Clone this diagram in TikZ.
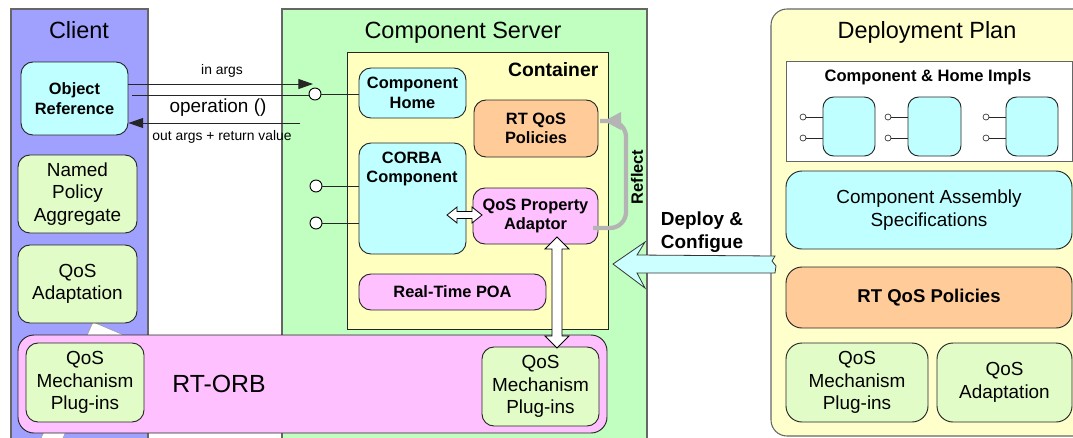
\documentclass[tikz,border=0pt]{standalone}
\usepackage{fontspec}
\setmainfont{Liberation Sans}
\usetikzlibrary{calc,arrows.meta}
\definecolor{clientblue}{HTML}{A0A0FF}
\definecolor{servergreen}{HTML}{C0FFC0}
\definecolor{contyellow}{HTML}{FFFFC0}
\definecolor{planyellow}{HTML}{FFFFCC}
\definecolor{cyanbox}{HTML}{BFFFFF}
\definecolor{greenbox}{HTML}{E2FCC8}
\definecolor{orangebox}{HTML}{FFCC99}
\definecolor{pinkbox}{HTML}{FFC0FF}
\definecolor{arrowcyan}{HTML}{CCFFFF}
\definecolor{reflectgray}{HTML}{B4B4B4}
\newcommand{\hdarrow}[6]{%
 \filldraw[blockarrow] (#1,#3) -- (#1+#6,#3-#5) -- (#1+#6,#3-#4) -- (#2-#6,#3-#4) -- (#2-#6,#3-#5) -- (#2,#3) -- (#2-#6,#3+#5) -- (#2-#6,#3+#4) -- (#1+#6,#3+#4) -- (#1+#6,#3+#5) -- cycle;}
\newcommand{\vdarrow}[6]{%
 \filldraw[blockarrow] (#3,#1) -- (#3+#5,#1+#6) -- (#3+#4,#1+#6) -- (#3+#4,#2-#6) -- (#3+#5,#2-#6) -- (#3,#2) -- (#3-#5,#2-#6) -- (#3-#4,#2-#6) -- (#3-#4,#1+#6) -- (#3-#5,#1+#6) -- cycle;}
\begin{document}
\begin{tikzpicture}[x=0.75pt,y=-0.75pt,
 bx/.style n args={4}{minimum width={(#3-#1)*0.75pt}, minimum height={(#4-#2)*0.75pt}, at={({(#1+#3)/2},{(#2+#4)/2})}},
 panel/.style={draw=black!60, line width=0.8pt, inner sep=0},
 box/.style={draw=black!85, line width=0.7pt, rounded corners=9pt, inner sep=0, align=center},
 bfs/.style={font=\fontsize{12.3}{14.5}\selectfont\bfseries},
 rgs/.style={font=\fontsize{14.2}{17}\selectfont},
 ttl/.style={font=\fontsize{17.6}{20}\selectfont, anchor=base},
 small/.style={font=\fontsize{10.4}{12}\selectfont},
 port/.style={circle, draw=black, fill=white, line width=0.7pt, minimum size=9pt, inner sep=0},
 sport/.style={circle, draw=black!80, fill=white, line width=0.5pt, minimum size=4.5pt, inner sep=0},
 wire/.style={draw=black!85, line width=0.75pt},
 blockarrow/.style={fill=white, draw=black, line width=0.6pt},
 tip/.style={-{Triangle[length=11pt,width=7.5pt]}}
]
\useasboundingbox (0,0) rectangle (1073,437);
\clip (0,0) rectangle (1073,437);
% panels
\node[panel, fill=clientblue, bx={11}{9}{148}{460}] (client) {};
\node[ttl] (clientT) at (79,38) {Client};
\node[panel, fill=servergreen, bx={282}{9}{647}{460}] (server) {};
\node[ttl] (serverT) at (463,38) {Component Server};
\node[panel, fill=planyellow, rounded corners=12pt, bx={771}{9}{1100}{436}] (plan) {};
\node[ttl] (planT) at (927,38) {Deployment Plan};
% white band
\filldraw[fill=white, draw=black!40, line width=0.4pt] (38,445) -- (93,322) -- (126,336) -- (108,336) -- (60,445) -- cycle;
% client boxes
\node[box, fill=cyanbox, bfs, bx={21}{62}{128}{135}] (objref) {Object\\Reference};
\node[box, fill=greenbox, rgs, bx={18}{155}{137}{233}] (npa) {Named\\Policy\\Aggregate};
\node[box, fill=greenbox, rgs, bx={18}{245}{137}{323}] (qadc) {QoS\\Adaptation};
% container
\node[draw=black!85, line width=0.7pt, fill=contyellow, inner sep=0, bx={347}{52}{608}{329}] (container) {};
\node[font=\fontsize{14.5}{17}\selectfont\bfseries, anchor=east] (contT) at (603,70) {Container};
\node[box, fill=cyanbox, bfs, bx={359}{68}{466}{118}] (home) {Component\\Home};
\node[box, fill=orangebox, bfs, bx={474}{100}{598}{157}] (rtqos) {RT QoS\\Policies};
\node[box, fill=cyanbox, bx={359}{143}{466}{254}] (corba) {};
\node[bfs, align=center] (corbaT) at (412,169) {CORBA\\Component};
\node[box, fill=pinkbox, bfs, bx={473}{188}{598}{244}] (qpa) {QoS Property\\Adaptor};
\node[box, fill=pinkbox, bfs, bx={359}{274}{546}{310}] (rtpoa) {Real-Time POA};
% ports
\node[port] (p1) at (315,94) {};
\node[port] (p2) at (316,186) {};
\node[port] (p3) at (316,223) {};
\draw[wire] (p1.east) -- (p1.east -| home.west);
\draw[wire] (p2.east) -- (p2.east -| corba.west);
\draw[wire] (p3.east) -- (p3.east -| corba.west);
\coordinate (oa) at (132,95);
\draw[wire] (oa) -- (oa -| p1.west);
\coordinate (inEnd) at (313,84);
\draw[wire, tip] (inEnd -| objref.east) -- (inEnd);
\node[small] (inargs) at (222,71) {in args};
\node[font=\fontsize{14.2}{17}\selectfont] (oper) at (218,108) {operation ()};
\coordinate (outStart) at (300,123);
\draw[wire, tip] (outStart) -- (outStart -| objref.east);
\node[small] (outargs) at (222,137) {out args + return value};
% RT-ORB
\node[box, fill=pinkbox, rounded corners=12pt, bx={18}{335}{607}{433}] (orb) {};
\node[font=\fontsize{18.6}{22}\selectfont] (orbT) at (219,384) {RT-ORB};
\node[box, fill=greenbox, rgs, bx={26}{343}{144}{422}] (qmL) {QoS\\Mechanism\\Plug-ins};
\node[box, fill=greenbox, rgs, bx={482}{347}{599}{426}] (qmR) {QoS\\Mechanism\\Plug-ins};
% block double arrows
\hdarrow{447}{482}{215}{3.5}{8}{10}
\vdarrow{237}{348}{557}{5}{12}{12}
% reflect
\coordinate (rf1) at (593,228);
\coordinate (rf2) at (600,121);
\draw[reflectgray, line width=3.2pt, rounded corners=12pt] (rf1) -- (626,228) -- (626,121) -- (rf2);
\fill[reflectgray] (604,121) -- (621,112) -- (621,130) -- cycle;
\node[bfs, rotate=90] (reflT) at (637,177) {Reflect};
% deploy arrow
\filldraw[fill=arrowcyan, draw=black!80, line width=0.6pt] (613,264) -- (645,242) -- (637,255) -- (775,256) -- (772,261) -- (776,266) -- (775,273) -- (637,273) -- (645,288) -- cycle;
\node[font=\fontsize{14.2}{17}\selectfont\bfseries, align=center] (depT) at (702,232) {Deploy \&\\Configue};
% deployment plan contents
\node[draw=black!60, line width=0.7pt, fill=white, inner sep=0, bx={786}{61}{1072}{161}] (impls) {};
\node[font=\fontsize{12.4}{14}\selectfont\bfseries] (implsT) at (928,77) {Component \& Home Impls};
\node[box, fill=cyanbox, rounded corners=8pt, bx={823}{97}{875}{156}] (c1) {};
\node[box, fill=cyanbox, rounded corners=8pt, bx={908}{97}{961}{156}] (c2) {};
\node[box, fill=cyanbox, rounded corners=8pt, bx={1006}{97}{1058}{156}] (c3) {};
\node[sport] (c1a) at (803,117) {};
\node[sport] (c1b) at (803,138) {};
\node[sport] (c2a) at (888,117) {};
\node[sport] (c2b) at (888,138) {};
\node[sport] (c3a) at (986,117) {};
\node[sport] (c3b) at (986,138) {};
\draw[wire] (c1a) -- (c1a -| c1.west);
\draw[wire] (c1b) -- (c1b -| c1.west);
\draw[wire] (c2a) -- (c2a -| c2.west);
\draw[wire] (c2b) -- (c2b -| c2.west);
\draw[wire] (c3a) -- (c3a -| c3.west);
\draw[wire] (c3b) -- (c3b -| c3.west);
\node[box, fill=cyanbox, rounded corners=12pt, rgs, bx={786}{171}{1072}{249}] (cas) {Component Assembly\\Specifications};
\node[box, fill=orangebox, rounded corners=12pt, font=\fontsize{13.9}{16}\selectfont\bfseries, bx={786}{267}{1072}{328}] (rtqosP) {RT QoS Policies};
\node[box, fill=greenbox, rounded corners=12pt, rgs, bx={786}{343}{928}{422}] (qmP) {QoS\\Mechanism\\Plug-ins};
\node[box, fill=greenbox, rounded corners=12pt, rgs, bx={937}{343}{1072}{422}] (qadP) {QoS\\Adaptation};
\end{tikzpicture}
\end{document}
